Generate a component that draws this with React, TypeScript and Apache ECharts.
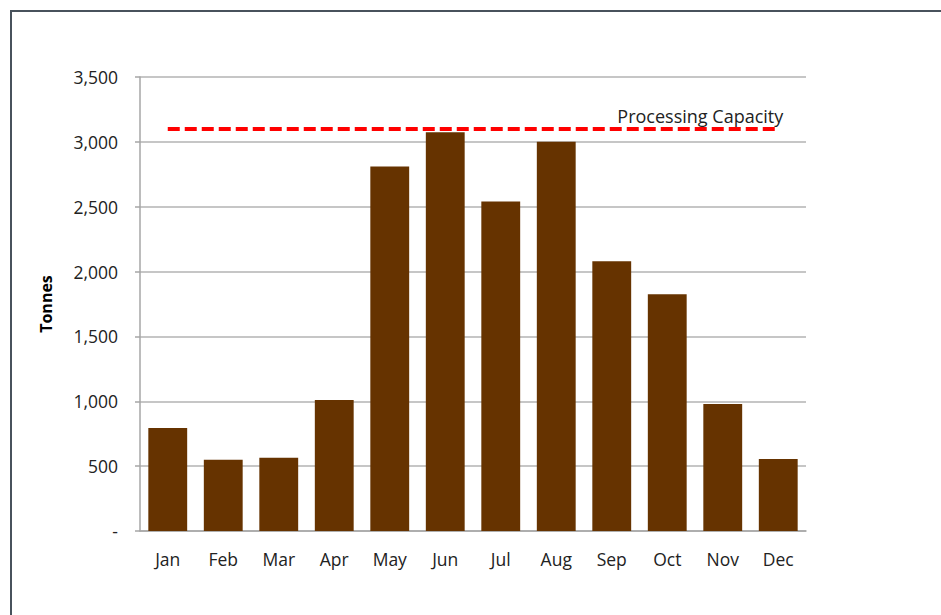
import React, { useEffect, useRef } from "react";
import * as echarts from "echarts";

const months = ["Jan", "Feb", "Mar", "Apr", "May", "Jun", "Jul", "Aug", "Sep", "Oct", "Nov", "Dec"];
const tonnes = [795, 550, 565, 1010, 2810, 3075, 2540, 3000, 2080, 1825, 980, 555];
const capacity = [3100, 3100, 3100, 3100, 3100, 3100, 3100, 3100, 3100, 3100, 3100, 3100];
const capacityLabel = "Processing Capacity";
const yTitle = "Tonnes";

const FONT = "'Open Sans', 'Noto Sans', sans-serif";

export default function App() {
  const ref = useRef<HTMLDivElement>(null);
  useEffect(() => {
    document.body.style.margin = "0";
    const chart = echarts.init(ref.current!, null, { renderer: "svg" });
    chart.setOption({
      animation: false,
      backgroundColor: "#ffffff",
      textStyle: { fontFamily: FONT },
      grid: { left: 140, right: 135, top: 77, bottom: 84, containLabel: false },
      graphic: [
        {
          type: "polyline",
          shape: { points: [[11, 615], [11, 11], [941, 11]] },
          style: { stroke: "#48525c", lineWidth: 2, fill: "none" },
          silent: true,
        },
      ],
      xAxis: {
        type: "category",
        data: months,
        axisLine: { show: true, lineStyle: { color: "#a6a6a6", width: 1.5 } },
        axisTick: { show: false },
        axisLabel: { color: "#222", fontSize: 17.5, margin: 19, fontFamily: FONT },
      },
      yAxis: {
        type: "value",
        min: 0,
        max: 3500,
        interval: 500,
        name: yTitle,
        nameLocation: "middle",
        nameGap: 86,
        nameRotate: 90,
        nameTextStyle: { color: "#000", fontSize: 16, fontWeight: "bold", fontFamily: FONT },
        axisLine: { show: true, lineStyle: { color: "#a6a6a6", width: 1.5 } },
        axisTick: { show: true, length: 5, lineStyle: { color: "#a6a6a6", width: 1.5 } },
        splitLine: { show: true, lineStyle: { color: "#b3b3b3", width: 1.5 } },
        axisLabel: {
          color: "#222",
          fontSize: 17.5,
          margin: 22,
          fontFamily: FONT,
          formatter: (v: number) => (v === 0 ? "-" : v.toLocaleString("en-US")),
        },
      },
      series: [
        {
          type: "bar",
          data: tonnes,
          barWidth: "70%",
          itemStyle: { color: "#663300" },
          z: 2,
        },
        {
          type: "line",
          data: capacity,
          symbol: "none",
          lineStyle: { color: "#ff0000", width: 4, type: [12, 5] },
          endLabel: {
            show: true,
            formatter: capacityLabel,
            align: "right",
            verticalAlign: "bottom",
            distance: 0,
            offset: [5, -4],
            color: "#222",
            fontSize: 18,
            fontFamily: FONT,
          },
          z: 3,
        },
      ],
    });
    return () => chart.dispose();
  }, []);
  return <div ref={ref} style={{ width: 941, height: 615 }} />;
}
